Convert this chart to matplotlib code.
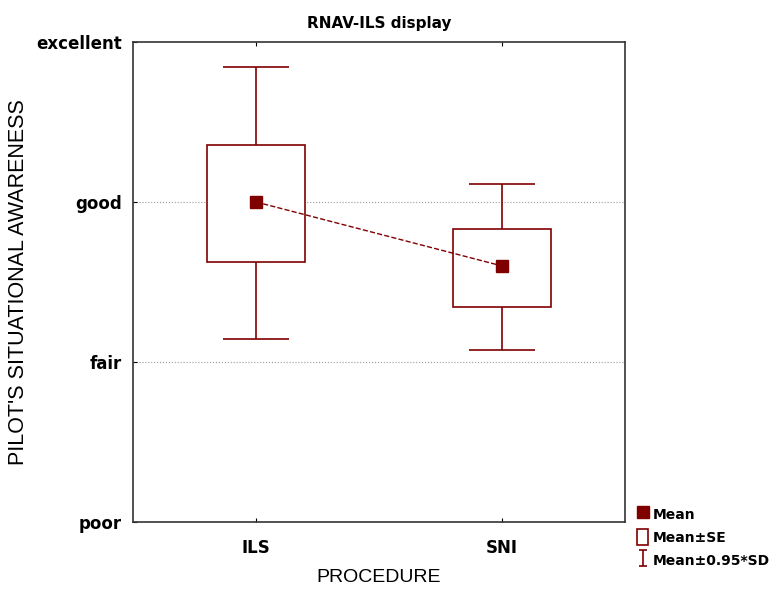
import matplotlib.pyplot as plt
from matplotlib.patches import Rectangle
from matplotlib.lines import Line2D
from matplotlib.path import Path

plt.rcParams['font.family'] = ['Liberation Sans', 'DejaVu Sans']

procedures = ['ILS', 'SNI']
means = [2.0, 1.6]
se_low = [1.625, 1.345]
se_high = [2.355, 1.83]
sd_low = [1.145, 1.075]
sd_high = [2.845, 2.115]
levels = ['poor', 'fair', 'good', 'excellent']

col = '#800000'
bold = {'family': 'DejaVu Sans', 'weight': 'bold'}

fig = plt.figure(figsize=(7.76, 5.89), dpi=100)
ax = fig.add_axes([0.1714, 0.1138, 0.634, 0.815])

x = list(range(len(procedures)))
ax.errorbar(x, means,
            yerr=[[m - l for m, l in zip(means, sd_low)],
                  [h - m for m, h in zip(means, sd_high)]],
            fmt='none', ecolor=col, elinewidth=1.2, capsize=24, capthick=1.2, zorder=2)
for xi, lo, hi in zip(x, se_low, se_high):
    ax.add_patch(Rectangle((xi - 0.2, lo), 0.4, hi - lo, facecolor='white',
                           edgecolor=col, lw=1.2, zorder=3))
ax.plot(x, means, ls='--', color=col, lw=1, zorder=4)
ax.plot(x, means, ls='none', marker='s', ms=8, color=col, zorder=5)

ax.set_xlim(-0.5, 1.5)
ax.set_ylim(0, 3)
ax.set_xticks(x)
ax.set_xticklabels(procedures, fontsize=12, **bold)
ax.set_yticks(range(4))
ax.set_yticklabels(levels, fontsize=12, **bold)
ax.tick_params(direction='in', length=3, top=True)
ax.tick_params(axis='x', pad=12)
ax.tick_params(axis='y', pad=8)
for y in [1, 2]:
    ax.axhline(y, color='#999999', ls=':', lw=0.8, zorder=1)
for s in ax.spines.values():
    s.set_linewidth(1.2)
    s.set_color('#333333')

ax.set_title('RNAV-ILS display', fontsize=11, pad=10, **bold)
ax.set_xlabel('PROCEDURE', fontsize=14)
ax.xaxis.set_label_coords(0.5, -0.098)
ax.set_ylabel("PILOT'S SITUATIONAL AWARENESS", fontsize=15.5)
ax.yaxis.set_label_coords(-0.212, 0.5)

# legend handles
ibar = Path([(-0.5, 1), (0.5, 1), (0, 1), (0, -1), (-0.5, -1), (0.5, -1)],
            [Path.MOVETO, Path.LINETO, Path.MOVETO, Path.LINETO, Path.MOVETO, Path.LINETO])
handles = [Line2D([], [], ls='none', marker='s', ms=8, color=col),
           Rectangle((0, 0), 1, 1, facecolor='white', edgecolor=col, lw=1.2),
           Line2D([], [], ls='none', marker=ibar, ms=12, mfc='none', mec=col, mew=1.2)]
labels = ['Mean', 'Mean\u00b1SE', 'Mean\u00b10.95*SD']
fig.legend(handles, labels, loc='lower left', bbox_to_anchor=(0.812, 0.024),
           frameon=False, handlelength=0.8, handleheight=1.4, handletextpad=0.35,
           labelspacing=0.5, borderpad=0,
           prop={'family': 'DejaVu Sans', 'weight': 'bold', 'size': 10})

fig.savefig('out.png', dpi=100)
